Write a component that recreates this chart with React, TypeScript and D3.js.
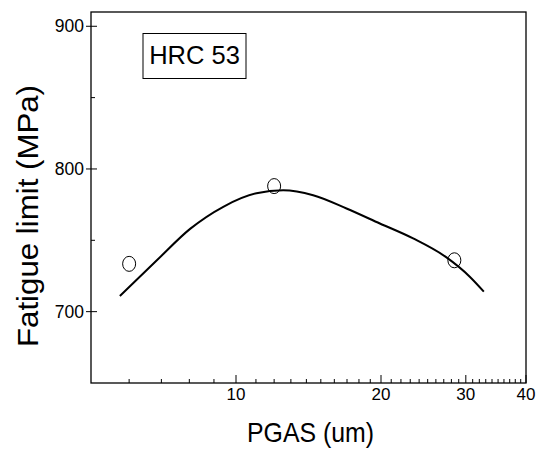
import React from 'react';
import * as d3 from "d3";

// measured points (PGAS in um, fatigue limit in MPa)
const pgas = [6.0, 12.0, 28.4];
const fatigue = [733.5, 788, 736];

// fitted curve
const fitX = [5.74, 6.85, 8.03, 9.41, 11.03, 12.53, 14.46, 16.96, 19.89, 23.32, 27.35, 30.57, 32.7];
const fitY = [711, 736, 758, 773.5, 783, 785, 781.6, 772.3, 761.8, 751.3, 738, 724.5, 714];

const xMajor = [10, 20, 30, 40];
const xMinor = [6, 7, 8, 9, 11, 12, 13, 14, 15, 16, 17, 18, 19, 21, 22, 23, 24, 25, 26, 27, 28, 29, 31, 32, 33, 34, 35, 36, 37, 38, 39];
const yMajor = [700, 800, 900];
const yMinor = [750, 850];

const label = "HRC 53";

export default function App() {
    const width = 539;
    const height = 450;
    const margin = ({ top: 12, right: 13, bottom: 67, left: 91 });
    const font = "Liberation Sans, Arial, sans-serif";

    const x = d3.scaleLog()
        .domain([5, 40])
        .range([margin.left, width - margin.right]);
    const y = d3.scaleLinear()
        .domain([650, 910])
        .range([height - margin.bottom, margin.top]);

    const line = d3.line<number>()
        .x((d, i) => x(fitX[i]))
        .y(d => y(d))
        .curve(d3.curveMonotoneX);

    const x0 = margin.left, x1 = width - margin.right;
    const y0 = height - margin.bottom, y1 = margin.top;

    return (
        <svg width={width} height={height} style={{ position: "absolute", left: 0, top: 0, background: "#fff" }}>
            <rect x={x0} y={y1} width={x1 - x0} height={y0 - y1} fill="none" stroke="#000" strokeWidth={1.3} />

            {/* x ticks, pointing inside */}
            {xMajor.map(v => (
                <g key={"xM" + v}>
                    <line x1={x(v)} x2={x(v)} y1={y0} y2={y0 - 8} stroke="#000" strokeWidth={1} />
                    <text x={x(v)} y={y0 + 16.5} textAnchor="middle" fontFamily={font} fontSize={17}>{v}</text>
                </g>
            ))}
            {xMinor.map(v => (
                <line key={"xm" + v} x1={x(v)} x2={x(v)} y1={y0} y2={y0 - 4} stroke="#000" strokeWidth={1} />
            ))}

            {/* y ticks, major crossing the axis */}
            {yMajor.map(v => (
                <g key={"yM" + v}>
                    <line x1={x0 - 5} x2={x0 + 6} y1={y(v)} y2={y(v)} stroke="#000" strokeWidth={1} />
                    <text x={x0 - 7} y={y(v) + 6} textAnchor="end" fontFamily={font} fontSize={17.5}>{v}</text>
                </g>
            ))}
            {yMinor.map(v => (
                <line key={"ym" + v} x1={x0} x2={x0 + 4} y1={y(v)} y2={y(v)} stroke="#000" strokeWidth={1} />
            ))}

            {/* fit curve */}
            <path d={line(fitY) || ""} fill="none" stroke="#000" strokeWidth={2} />

            {/* data points */}
            {pgas.map((v, i) => (
                <ellipse key={"p" + i} cx={x(v)} cy={y(fatigue[i])} rx={6.5} ry={7.5} fill="none" stroke="#000" strokeWidth={1} />
            ))}

            {/* label box */}
            <rect x={143} y={33.5} width={103} height={45} fill="#fff" stroke="#000" strokeWidth={1} />
            <text x={194.5} y={63.5} textAnchor="middle" fontFamily={font} fontSize={25.5}>{label}</text>

            {/* axis titles */}
            <text x={310.5} y={442} textAnchor="middle" fontFamily={font} fontSize={28}
                textLength={127} lengthAdjust="spacingAndGlyphs">PGAS (um)</text>
            <text transform={`translate(38,216) rotate(-90)`} textAnchor="middle" fontFamily={font} fontSize={30}
                textLength={262} lengthAdjust="spacingAndGlyphs">Fatigue limit (MPa)</text>
        </svg>
    );
}
